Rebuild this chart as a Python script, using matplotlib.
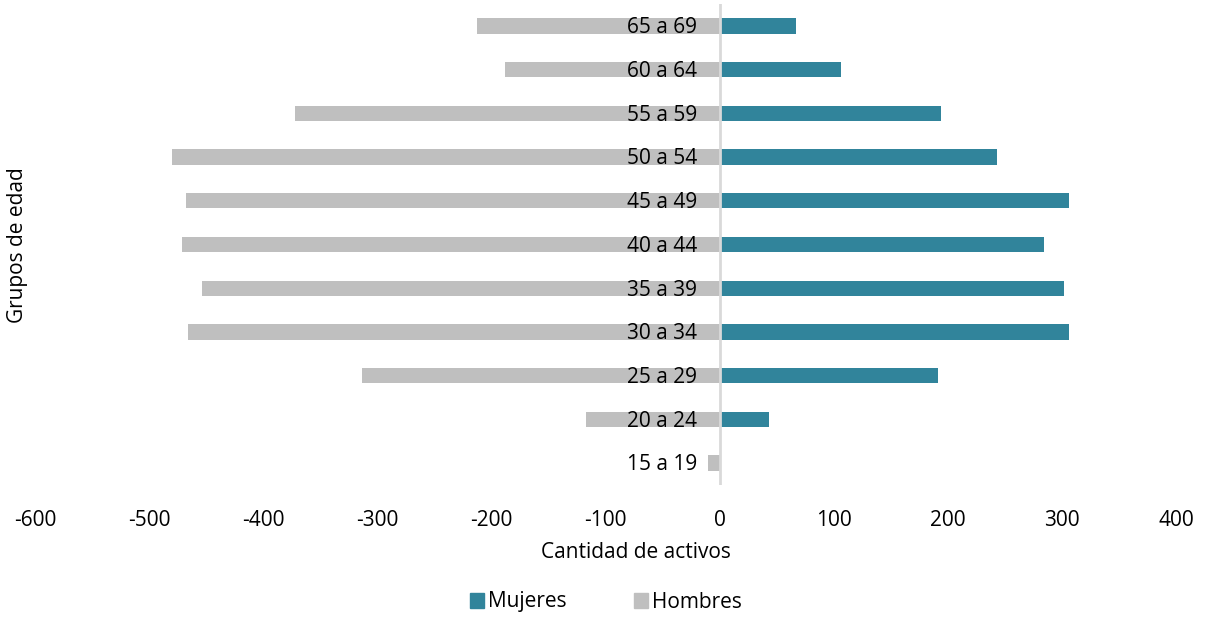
import matplotlib
matplotlib.use("Agg")
import matplotlib.pyplot as plt
from matplotlib.patches import Patch

plt.rcParams['font.family'] = ['Open Sans', 'DejaVu Sans']

grupos = ["15 a 19", "20 a 24", "25 a 29", "30 a 34", "35 a 39", "40 a 44",
          "45 a 49", "50 a 54", "55 a 59", "60 a 64", "65 a 69"]
mujeres = [0, 43, 191, 306, 302, 284, 306, 243, 194, 106, 67]
hombres = [-10, -117, -313, -466, -454, -471, -468, -480, -372, -188, -213]
xticks = [-600, -500, -400, -300, -200, -100, 0, 100, 200, 300, 400]

c_muj = "#31849B"
c_hom = "#BFBFBF"
fs = 15

fig = plt.figure(figsize=(12.05, 6.19), dpi=100)
ax = fig.add_axes([35/1205, 1-485/619, (1176-35)/1205, 481/619])

y = list(range(len(grupos)))
ax.barh(y, hombres, height=0.35, color=c_hom)
ax.barh(y, mujeres, height=0.35, color=c_muj)

ax.set_xlim(-600, 400)
ax.set_ylim(-0.5, len(grupos) - 0.5)
ax.set_xticks(xticks)
ax.set_xticklabels([str(v) for v in xticks], fontsize=fs, color="#000000")
ax.tick_params(axis='x', length=0, pad=18)
ax.set_yticks([])
for s in ax.spines.values():
    s.set_visible(False)
ax.axvline(0, color="#D9D9D9", lw=2)

for yi, g in zip(y, grupos):
    ax.annotate(g, xy=(0, yi), xytext=(-16, -5.3), textcoords="offset points",
                ha="right", va="baseline", fontsize=fs, color="#000000")

fig.text(636/1205, 1-552/619, "Cantidad de activos", ha="center", va="center", fontsize=fs)
fig.text(18/1205, 1-245/619, "Grupos de edad", ha="center", va="center", rotation=90, fontsize=fs)

handles = [Patch(color=c_muj, label="Mujeres"), Patch(color=c_hom, label="Hombres")]
fig.legend(handles=handles, loc="center", bbox_to_anchor=(606/1205, 1-602/619), ncol=2,
           frameon=False, fontsize=fs, handlelength=0.7, handleheight=0.7,
           handletextpad=0.2, columnspacing=3.2)

fig.savefig("out.png", dpi=100)
